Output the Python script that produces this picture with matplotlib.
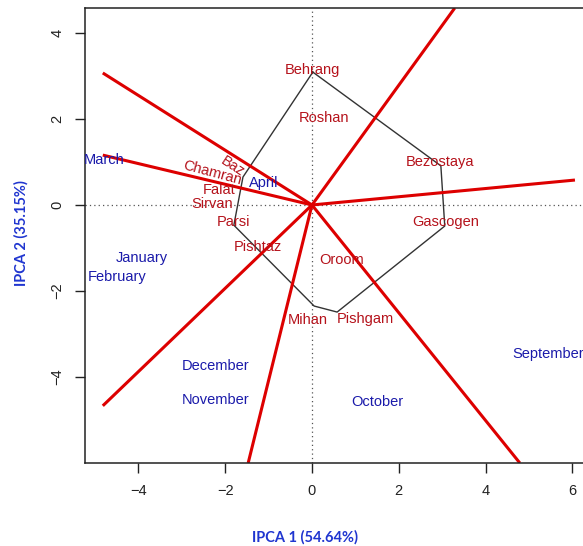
import matplotlib.pyplot as plt

# genotype labels (IPCA1, IPCA2)
genotypes = ['Behrang', 'Roshan', 'Bezostaya', 'Gascogen', 'Oroom', 'Pishgam',
             'Mihan', 'Pishtaz', 'Parsi', 'Sirvan', 'Falat', 'Chamran', 'Baz']
gen_x = [0.02, 0.28, 2.95, 3.09, 0.69, 1.24, -0.09, -1.24, -1.80, -2.30, -2.14, -2.30, -1.82]
gen_y = [3.14, 2.02, 1.00, -0.40, -1.28, -2.65, -2.67, -0.98, -0.40, 0.02, 0.35, 0.75, 0.90]
gen_rot = [0, 0, 0, 0, 0, 0, 0, 0, 0, 0, 0, -15, -33]

# environments
envs = ['March', 'April', 'January', 'February', 'December', 'November',
        'October', 'September']
env_x = [-4.79, -1.11, -3.92, -4.49, -2.21, -2.21, 1.50, 5.44]
env_y = [1.05, 0.51, -1.23, -1.67, -3.74, -4.53, -4.58, -3.47]

# convex hull of genotypes (vertices)
hull_x = [0.02, 2.97, 3.06, 0.58, 0.05, -1.80, -1.59]
hull_y = [3.09, 0.91, -0.49, -2.49, -2.35, -0.47, 0.65]

# rays from origin, perpendicular to hull sides
ray_x = [3.29, 6.06, 4.79, -1.47, -4.82, -4.82, -4.82]
ray_y = [4.58, 0.58, -6.00, -6.00, -4.67, 1.16, 3.07]


def main():
    fig = plt.figure(figsize=(5.83, 5.46), dpi=100)
    ax = fig.add_axes([0.1458, 0.152, 0.8806, 0.8333])
    ax.set_xlim(-5.23, 6.6)
    ax.set_ylim(-6.0, 4.58)

    ax.axhline(0, color='#555555', lw=0.9, ls=(0, (1, 2.5)))
    ax.axvline(0, color='#555555', lw=0.9, ls=(0, (1, 2.5)))

    hx = hull_x + hull_x[:1]
    hy = hull_y + hull_y[:1]
    ax.plot(hx, hy, color='#333333', lw=1.0)

    for x, y in zip(ray_x, ray_y):
        ax.plot([0, x], [0, y], color='#DD0000', lw=2.2, solid_capstyle='butt')

    for name, x, y, r in zip(genotypes, gen_x, gen_y, gen_rot):
        ax.text(x, y, name, color='#B5121B', fontsize=10.5, rotation=r,
                ha='center', va='center', family='Liberation Sans',
                clip_on=False)
    for name, x, y in zip(envs, env_x, env_y):
        ax.text(x, y, name, color='#1A1AAA', fontsize=10.5,
                ha='center', va='center', family='Liberation Sans')

    ax.set_xticks([-4, -2, 0, 2, 4, 6])
    ax.set_yticks([-4, -2, 0, 2, 4])
    ax.set_xticklabels(['\u22124', '\u22122', '0', '2', '4', '6'])
    ax.set_yticklabels(['\u22124', '\u22122', '0', '2', '4'], rotation=90,
                       va='center')
    ax.tick_params(length=7, width=1, pad=8, labelsize=10.5, colors='#222222')
    for s in ax.spines.values():
        s.set_linewidth(1.1)
        s.set_color('#222222')
    for lab in ax.get_xticklabels() + ax.get_yticklabels():
        lab.set_family('Liberation Sans')

    fig.text(0.523, 1 - 537 / 546, 'IPCA 1 (54.64%)', color='#1F35D0',
             fontsize=10.5, fontweight='bold', ha='center', va='center',
             family='Lato')
    fig.text(0.037, 0.573, 'IPCA 2 (35.15%)', color='#1F35D0', fontsize=10.5,
             fontweight='bold', ha='center', va='center', rotation=90,
             family='Lato')

    fig.savefig('out.png', dpi=100)


if __name__ == "__main__":
    main()
